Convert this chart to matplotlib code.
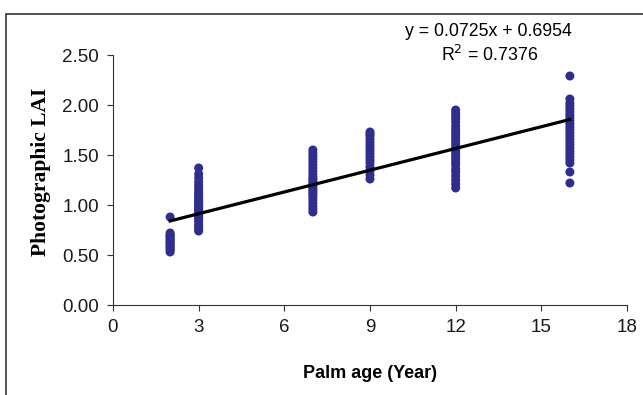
import matplotlib
matplotlib.use("Agg")
import matplotlib.pyplot as plt
from matplotlib.patches import Rectangle

# LAI readings per palm age (years)
age_2 = [0.53, 0.55, 0.56, 0.58, 0.59, 0.61, 0.62, 0.63, 0.65, 0.66,
         0.68, 0.69, 0.70, 0.72, 0.88]
age_3 = [0.74, 0.76, 0.78, 0.80, 0.83, 0.85, 0.87, 0.88, 0.90, 0.91,
         0.93, 0.94, 0.95, 0.97, 0.98, 1.00, 1.01, 1.03, 1.04, 1.06,
         1.08, 1.10, 1.12, 1.14, 1.17, 1.20, 1.23, 1.27, 1.31, 1.37]
age_7 = [0.93, 0.96, 0.99, 1.02, 1.05, 1.08, 1.10, 1.12, 1.14, 1.16,
         1.18, 1.20, 1.22, 1.24, 1.26, 1.28, 1.31, 1.34, 1.37, 1.40,
         1.43, 1.46, 1.49, 1.52, 1.55]
age_9 = [1.26, 1.30, 1.34, 1.38, 1.42, 1.45, 1.48, 1.51, 1.54, 1.57,
         1.60, 1.63, 1.66, 1.69, 1.71, 1.73]
age_12 = [1.17, 1.21, 1.25, 1.29, 1.33, 1.36, 1.40, 1.43, 1.46, 1.49,
          1.52, 1.55, 1.58, 1.61, 1.64, 1.67, 1.70, 1.73, 1.76, 1.79,
          1.83, 1.86, 1.89, 1.92, 1.95]
age_16 = [1.22, 1.33, 1.42, 1.45, 1.48, 1.51, 1.54, 1.57, 1.60, 1.63,
          1.66, 1.69, 1.72, 1.75, 1.78, 1.81, 1.84, 1.87, 1.90, 1.93,
          1.96, 1.99, 2.02, 2.06, 2.29]
groups = {2: age_2, 3: age_3, 7: age_7, 9: age_9, 12: age_12, 16: age_16}

slope = 0.0725
intercept = 0.6954
r2 = 0.7376

x_ticks = [0, 3, 6, 9, 12, 15, 18]
y_ticks = [0.0, 0.5, 1.0, 1.5, 2.0, 2.5]

point_color = "#2e2e8c"

fig = plt.figure(figsize=(6.43, 3.95), dpi=100)
ax = fig.add_axes([113 / 643, 1 - 305 / 395, (627 - 113) / 643, (305 - 55) / 395])

xs, ys = [], []
for age, vals in groups.items():
    xs += [age] * len(vals)
    ys += vals
ax.scatter(xs, ys, s=42, color=point_color, edgecolors="none", zorder=2)

x_fit = [min(groups), max(groups)]
ax.plot(x_fit, [slope * x + intercept for x in x_fit], color="black", lw=2.3, zorder=3)

ax.set_xlim(0, 18)
ax.set_ylim(0, 2.5)
ax.set_xticks(x_ticks)
ax.set_yticks(y_ticks)
ax.set_yticklabels(["%.2f" % v for v in y_ticks])
for s in ["top", "right"]:
    ax.spines[s].set_visible(False)
for s in ["left", "bottom"]:
    ax.spines[s].set_color("#333333")
ax.tick_params(direction="out", length=4, color="#333333", labelsize=13.5,
               labelcolor="#1a1a1a", pad=6)
for lab in ax.get_xticklabels() + ax.get_yticklabels():
    lab.set_family("Liberation Sans")

ax.set_xlabel("Palm age (Year)", family="Liberation Sans", fontweight="bold",
              fontsize=13, labelpad=21)
ax.set_ylabel("Photographic LAI", family="Liberation Serif", fontweight="bold",
              fontsize=15.5)
ax.yaxis.set_label_coords(-0.121, 0.532)

fig.text(488 / 643, 1 - 31 / 395, "y = %.4fx + %.4f" % (slope, intercept),
         family="Liberation Sans", fontsize=12.8, ha="center", va="center")
fig.text(490 / 643, 1 - 55 / 395, "R$^2$ = %.4f" % r2,
         family="Liberation Sans", fontsize=12.8, ha="center", va="center")

# outer chart frame
fig.patches.append(Rectangle((6 / 643, -0.1), 1.2, 1 - 14 / 395 + 0.1,
                             transform=fig.transFigure, fill=False,
                             edgecolor="#333333", lw=1.2))

plt.savefig("out.png", dpi=100)
